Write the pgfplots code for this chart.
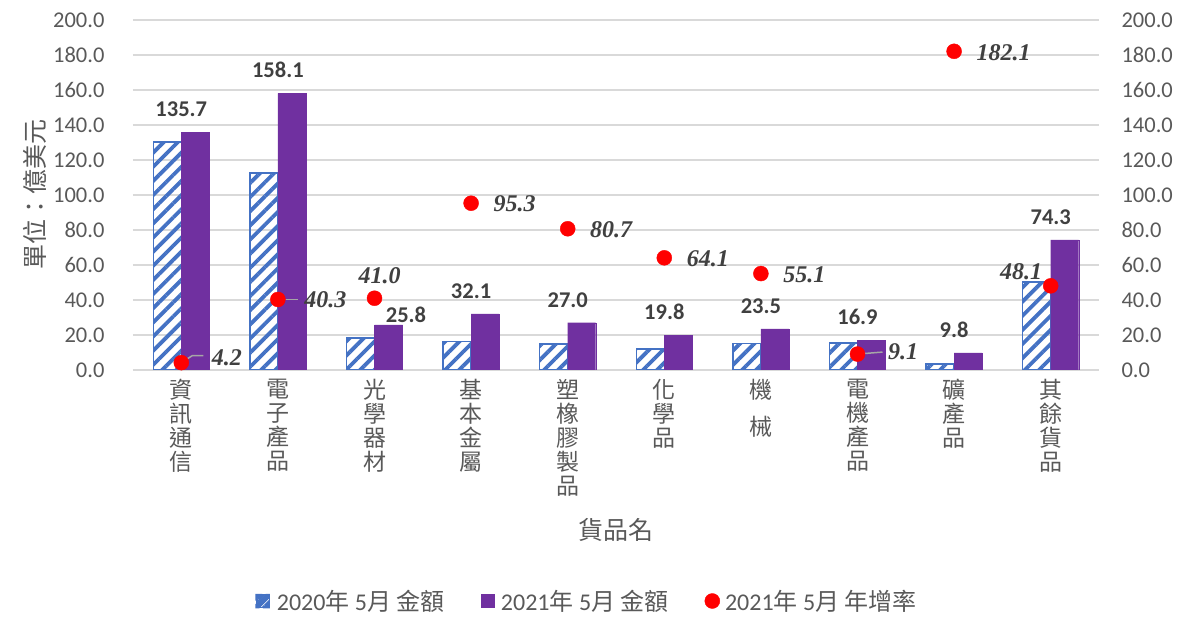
\documentclass[border=0pt]{standalone}
\usepackage{fontspec}
\setmainfont{Carlito}
\newfontfamily\cjk{Noto Sans CJK TC}
\newfontfamily\tnr{Liberation Serif}
\usepackage{pgfplots}
\usepackage{pgfplotstable}
\pgfplotsset{compat=1.18}
\usetikzlibrary{patterns.meta}
\definecolor{barblue}{HTML}{4472C4}
\definecolor{barpurple}{HTML}{7030A0}
\definecolor{gridgray}{HTML}{D9D9D9}
\definecolor{txtgray}{HTML}{595959}
\definecolor{lblgray}{HTML}{404040}
\definecolor{leader}{HTML}{A6A6A6}
\pgfplotstableread{
x y20 y21 g
0 130.2 135.7 4.2
1 112.7 158.1 40.3
2 18.3 25.8 41.0
3 16.4 32.1 95.3
4 14.9 27.0 80.7
5 12.1 19.8 64.1
6 15.2 23.5 55.1
7 15.5 16.9 9.1
8 3.5 9.8 182.1
9 50.2 74.3 48.1
}\data
\pgfplotsset{
  numfmt/.style={
    /pgf/number format/fixed,
    /pgf/number format/fixed zerofill,
    /pgf/number format/precision=1,
    /pgf/number format/assume math mode=true},
}
\tikzset{glab/.style={font=\tnr\bfseries\itshape\fontsize{24}{26}\selectfont, text=lblgray},
  vlab/.style={font=\bfseries\fontsize{22.5}{26}\selectfont, text=lblgray}}
\begin{document}
\begin{tikzpicture}
\path (-133pt,370pt) rectangle (1059pt,-247pt);
\begin{axis}[
  scale only axis, width=966pt, height=350pt,
  xmin=-0.5, xmax=9.5, ymin=0, ymax=200,
  xtick={0,...,9},
  xticklabels={{資\\訊\\通\\信},{電\\子\\產\\品},{光\\學\\器\\材},{基\\本\\金\\屬},{塑\\橡\\膠\\製\\品},{化\\學\\品},{機\\[13pt]械},{電\\機\\產\\品},{礦\\產\\品},{其\\餘\\貨\\品}},
  xticklabel style={font=\cjk\fontsize{23}{24}\selectfont, text=txtgray, align=center, anchor=north, yshift=-6pt},
  ytick={0,20,...,200},
  yticklabel style={font=\fontsize{22.5}{26}\selectfont, text=txtgray, xshift=-25pt},
  numfmt,
  ymajorgrids, grid style={gridgray, line width=1.2pt},
  axis line style={draw=none}, major tick style={draw=none},
  ylabel={單位：億美元},
  ylabel style={font=\cjk\fontsize{25}{26}\selectfont, text=txtgray, at={(axis description cs:-0.1015,0.5)}, anchor=center},
  xlabel={貨品名},
  xlabel style={font=\cjk\fontsize{25}{26}\selectfont, text=txtgray, at={(axis description cs:0.5,-0.457)}, anchor=center},
  legend style={at={(0.47,-0.66)}, anchor=center, legend columns=3, draw=none, fill=none,
    font=\fontsize{24}{26}\selectfont, text=txtgray,
    /tikz/every even column/.append style={column sep=34pt}},
  legend cell align=left,
]
\addplot[ybar, bar width=28pt, bar shift=-14pt, draw=barblue, line width=1.5pt,
  pattern={Lines[angle=45,distance=10pt,line width=3.8pt]}, pattern color=barblue,
  legend image code/.code={\draw[draw=barblue, line width=1pt, fill=white] (0pt,-6.5pt) rectangle (13pt,6.5pt);
    \fill[barblue] (0pt,-6.5pt) -- (3pt,-6.5pt) -- (13pt,3.5pt) -- (13pt,6.5pt) -- (10pt,6.5pt) -- (0pt,-3.5pt) -- cycle;
    \fill[barblue] (0pt,2pt) -- (0pt,6.5pt) -- (4.5pt,6.5pt) -- cycle;
    \fill[barblue] (13pt,-2pt) -- (13pt,-6.5pt) -- (8.5pt,-6.5pt) -- cycle;
    \draw[draw=barblue, line width=1pt] (0pt,-6.5pt) rectangle (13pt,6.5pt);
    \path (18pt,0pt);}]
  table[x=x,y=y20]{\data};
\addlegendentry{2020{\cjk 年} 5{\cjk 月} {\cjk 金額}}
\addplot[ybar, bar width=28pt, bar shift=14pt, fill=barpurple, draw=barpurple,
  nodes near coords={\ifnum\coordindex=2 \else\pgfmathprintnumber{\pgfplotspointmeta}\fi},
  nodes near coords style={vlab, yshift=12pt},
  legend image code/.code={\fill[barpurple] (0pt,-6.5pt) rectangle (13pt,6.5pt); \path (18pt,0pt);}]
  table[x=x,y=y21]{\data};
\addlegendentry{2021{\cjk 年} 5{\cjk 月} {\cjk 金額}}
\addplot[only marks, mark=*, mark size=7.5pt, color=red, mark options={fill=red, draw=red},
  legend image code/.code={\fill[red] (6.5pt,0pt) circle (7.5pt); \path (17pt,0pt);}]
  table[x=x,y=g]{\data};
\addlegendentry{2021{\cjk 年} 5{\cjk 月} {\cjk 年增率}}
\node[vlab, anchor=center, xshift=31.5pt, yshift=10pt] at (axis cs:2,25.8) {25.8};
\draw[leader, line width=1.5pt] (axis cs:0,4.2) -- ++(11pt,7pt) -- ++(11pt,0pt);
\draw[leader, line width=1.5pt] (axis cs:1,40.3) -- ++(20pt,0pt);
\draw[leader, line width=1.5pt] (axis cs:7,9.1) -- ++(25pt,2pt);
\node[glab, anchor=west, xshift=27pt, yshift=5pt] at (axis cs:0,4.2) {4.2};
\node[glab, anchor=west, xshift=23pt, yshift=0pt] at (axis cs:1,40.3) {40.3};
\node[glab, anchor=south, xshift=5pt, yshift=11pt] at (axis cs:2,41.0) {41.0};
\node[glab, anchor=west, xshift=19pt, yshift=-1pt] at (axis cs:3,95.3) {95.3};
\node[glab, anchor=west, xshift=19pt, yshift=-1pt] at (axis cs:4,80.7) {80.7};
\node[glab, anchor=west, xshift=19pt, yshift=-1pt] at (axis cs:5,64.1) {64.1};
\node[glab, anchor=west, xshift=19pt, yshift=-1pt] at (axis cs:6,55.1) {55.1};
\node[glab, anchor=west, xshift=27pt, yshift=2pt] at (axis cs:7,9.1) {9.1};
\node[glab, anchor=west, xshift=19pt, yshift=-1pt] at (axis cs:8,182.1) {182.1};
\node[glab, anchor=east, xshift=-5pt, yshift=14pt] at (axis cs:9,48.1) {48.1};
\end{axis}
\begin{axis}[
  scale only axis, width=966pt, height=350pt,
  xmin=-0.5, xmax=9.5, ymin=0, ymax=200,
  axis y line*=right, axis x line=none,
  ytick={0,20,...,200},
  yticklabel style={font=\fontsize{22.5}{26}\selectfont, text=txtgray, xshift=19pt},
  numfmt,
  axis line style={draw=none}, major tick style={draw=none},
]
\addplot[draw=none] coordinates {(0,0)};
\end{axis}
\end{tikzpicture}
\end{document}
